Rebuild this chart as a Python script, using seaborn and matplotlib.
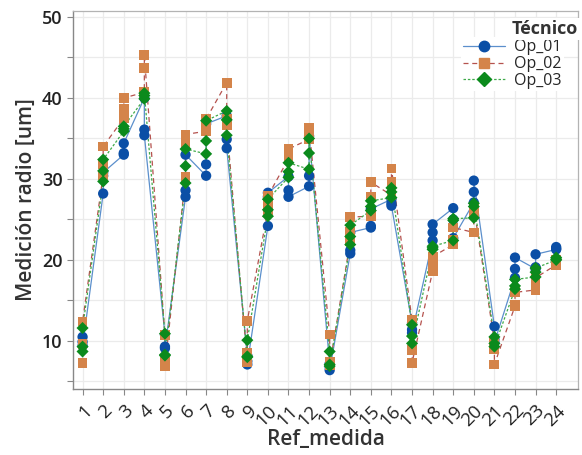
import matplotlib
matplotlib.use("Agg")
import matplotlib.pyplot as plt
from matplotlib.lines import Line2D
import seaborn as sns
import pandas as pd
import numpy as np

refs = list(range(1, 25))
operators = ["Op_01", "Op_02", "Op_03"]

op01 = [[10.5, 9.9, 9.4], [28.2, 30.4, 30.8], [33.0, 33.2, 34.4], [40.0, 36.1, 35.4],
        [10.8, 9.3, 9.1], [27.8, 28.6, 33.0], [30.4, 31.8, 36.8], [37.8, 34.9, 33.8],
        [8.2, 7.5, 7.1], [24.2, 27.8, 28.3], [30.3, 28.6, 27.8], [29.1, 30.4, 35.3],
        [7.2, 6.8, 6.4], [20.8, 21.2, 23.4], [24.0, 24.2, 26.3], [27.5, 27.0, 26.7],
        [12.2, 11.4, 11.0], [22.4, 23.4, 24.4], [26.4, 25.0, 22.7], [27.1, 28.4, 29.8],
        [11.8, 10.2, 9.8], [17.8, 18.9, 20.3], [18.9, 19.1, 20.7], [21.3, 21.4, 21.6]]
op02 = [[7.3, 9.6, 12.4], [30.5, 31.8, 34.0], [37.5, 38.6, 40.0], [40.7, 43.7, 45.3],
        [10.7, 7.4, 6.9], [30.2, 34.3, 35.5], [35.9, 36.5, 37.4], [41.9, 37.4, 36.6],
        [7.4, 8.5, 12.5], [26.2, 26.9, 27.9], [32.5, 33.0, 33.7], [34.9, 35.5, 36.3],
        [10.8, 7.4, 7.0], [22.3, 23.5, 25.3], [25.4, 27.8, 29.6], [28.0, 29.6, 31.3],
        [12.6, 8.9, 7.3], [18.6, 19.2, 20.4], [21.9, 22.5, 24.0], [23.4, 25.8, 26.5],
        [10.0, 9.0, 7.1], [14.3, 14.5, 16.0], [16.3, 16.9, 17.8], [19.4, 19.6, 20.0]]
op03 = [[8.7, 9.3, 11.6], [29.7, 31.0, 32.4], [35.9, 36.2, 36.5], [39.9, 40.3, 40.6],
        [10.9, 8.3, 8.2], [29.5, 31.6, 33.7], [33.1, 34.7, 37.2], [38.4, 37.3, 35.4],
        [8.0, 8.1, 10.1], [25.4, 26.2, 27.5], [30.2, 30.9, 32.0], [31.2, 33.2, 35.0],
        [8.7, 7.1, 6.9], [21.9, 22.9, 24.3], [26.1, 26.6, 27.3], [27.7, 28.4, 28.9],
        [12.0, 10.6, 9.7], [21.3, 21.5, 21.7], [22.4, 24.9, 25.1], [25.2, 26.6, 27.0],
        [10.5, 9.7, 9.3], [16.4, 16.8, 17.6], [17.9, 18.5, 19.0], [20.0, 20.1, 20.3]]

rows = []
for op, vals in zip(operators, [op01, op02, op03]):
    for r, reps in zip(refs, vals):
        for v in reps:
            rows.append({"Ref_medida": r, "Técnico": op, "Medicion": v})
df = pd.DataFrame(rows)

sns.set_theme(style="whitegrid")
plt.rcParams['font.family'] = ['Open Sans', 'DejaVu Sans']

marker_colors = {"Op_01": "#0b4fa6", "Op_02": "#d4844a", "Op_03": "#0b8a1c"}
line_colors = {"Op_01": "#5b8fcc", "Op_02": "#b5524e", "Op_03": "#3faa4a"}
line_styles = {"Op_01": "-", "Op_02": (0, (4, 3)), "Op_03": (0, (2, 1.5))}
markers = {"Op_01": "o", "Op_02": "s", "Op_03": "D"}
msizes = {"Op_01": 55, "Op_02": 50, "Op_03": 38}

fig = plt.figure(figsize=(5.82, 4.55), dpi=100)
ax = fig.add_axes([73/582, 1-389/455, (578-73)/582, (389-11)/455])

for op in operators:
    sub = df[df["Técnico"] == op]
    sns.lineplot(data=sub, x="Ref_medida", y="Medicion", estimator=None, sort=False,
                 color=line_colors[op], linewidth=0.9, ax=ax, legend=False)
    ax.lines[-1].set_linestyle(line_styles[op])
for op in operators:
    sub = df[df["Técnico"] == op]
    sns.scatterplot(data=sub, x="Ref_medida", y="Medicion", color=marker_colors[op],
                    marker=markers[op], s=msizes[op], edgecolor="none", ax=ax,
                    legend=False, zorder=3)

ax.set_xlim(0.535, 25.06)
ax.set_ylim(4.07, 50.74)
ax.set_xticks(refs)
ax.set_xticklabels([str(r) for r in refs], rotation=45, ha="right", va="top",
                   rotation_mode="anchor", fontsize=13.5, color="#222222")
ax.set_yticks([10, 20, 30, 40, 50])
ax.set_yticks([5, 15, 25, 35, 45], minor=True)
ax.tick_params(axis="y", labelsize=13, colors="#222222", length=4, width=0.8, which="major")
ax.tick_params(axis="y", which="minor", length=4, width=0.8, color="#888888", left=True)
ax.tick_params(axis="x", length=4, width=0.8, color="#888888", bottom=True, pad=5)
ax.tick_params(axis="y", color="#888888", left=True)
for lab in ax.get_yticklabels():
    lab.set_fontweight("semibold")
ax.grid(True, which="both", color="#ebebeb", linewidth=0.9)
ax.set_axisbelow(True)
for side in ["top", "right"]:
    ax.spines[side].set_color("#b3b3b3")
    ax.spines[side].set_linewidth(0.9)
for side in ["left", "bottom"]:
    ax.spines[side].set_color("#888888")
    ax.spines[side].set_linewidth(1.0)

ax.set_xlabel("Ref_medida", fontsize=15, fontweight="semibold", color="#333333")
ax.set_ylabel("Medición radio [um]", fontsize=15, fontweight="semibold", color="#333333")
ax.xaxis.set_label_coords(0.5, -(440 - 389) / 378)
ax.xaxis.label.set_va("center")
ax.yaxis.set_label_coords(-(73 - 26) / 505, 0.5)
ax.yaxis.label.set_va("center")

handles = [Line2D([0], [0], color=line_colors[op], linestyle=line_styles[op], linewidth=0.9,
                  marker=markers[op], markersize=7.5 if op != "Op_03" else 7,
                  markerfacecolor=marker_colors[op], markeredgecolor=marker_colors[op])
           for op in operators]
leg = ax.legend(handles, operators, loc="upper right",
                bbox_to_anchor=((564 - 73) / 505, (389 - 37) / 378), frameon=True,
                fontsize=11.5, handlelength=2.6, labelspacing=0.05,
                borderpad=0.15, handletextpad=0.6, borderaxespad=0)
leg.get_frame().set_edgecolor("none")
leg.get_frame().set_facecolor("white")
leg.get_frame().set_alpha(1)
fig.text(512 / 582, 1 - 29 / 455, "Técnico", ha="left", va="center", fontsize=13,
         fontweight="bold", color="#333333",
         bbox=dict(facecolor="white", edgecolor="none", pad=1.5), zorder=6)

fig.savefig("out.png", dpi=100)
